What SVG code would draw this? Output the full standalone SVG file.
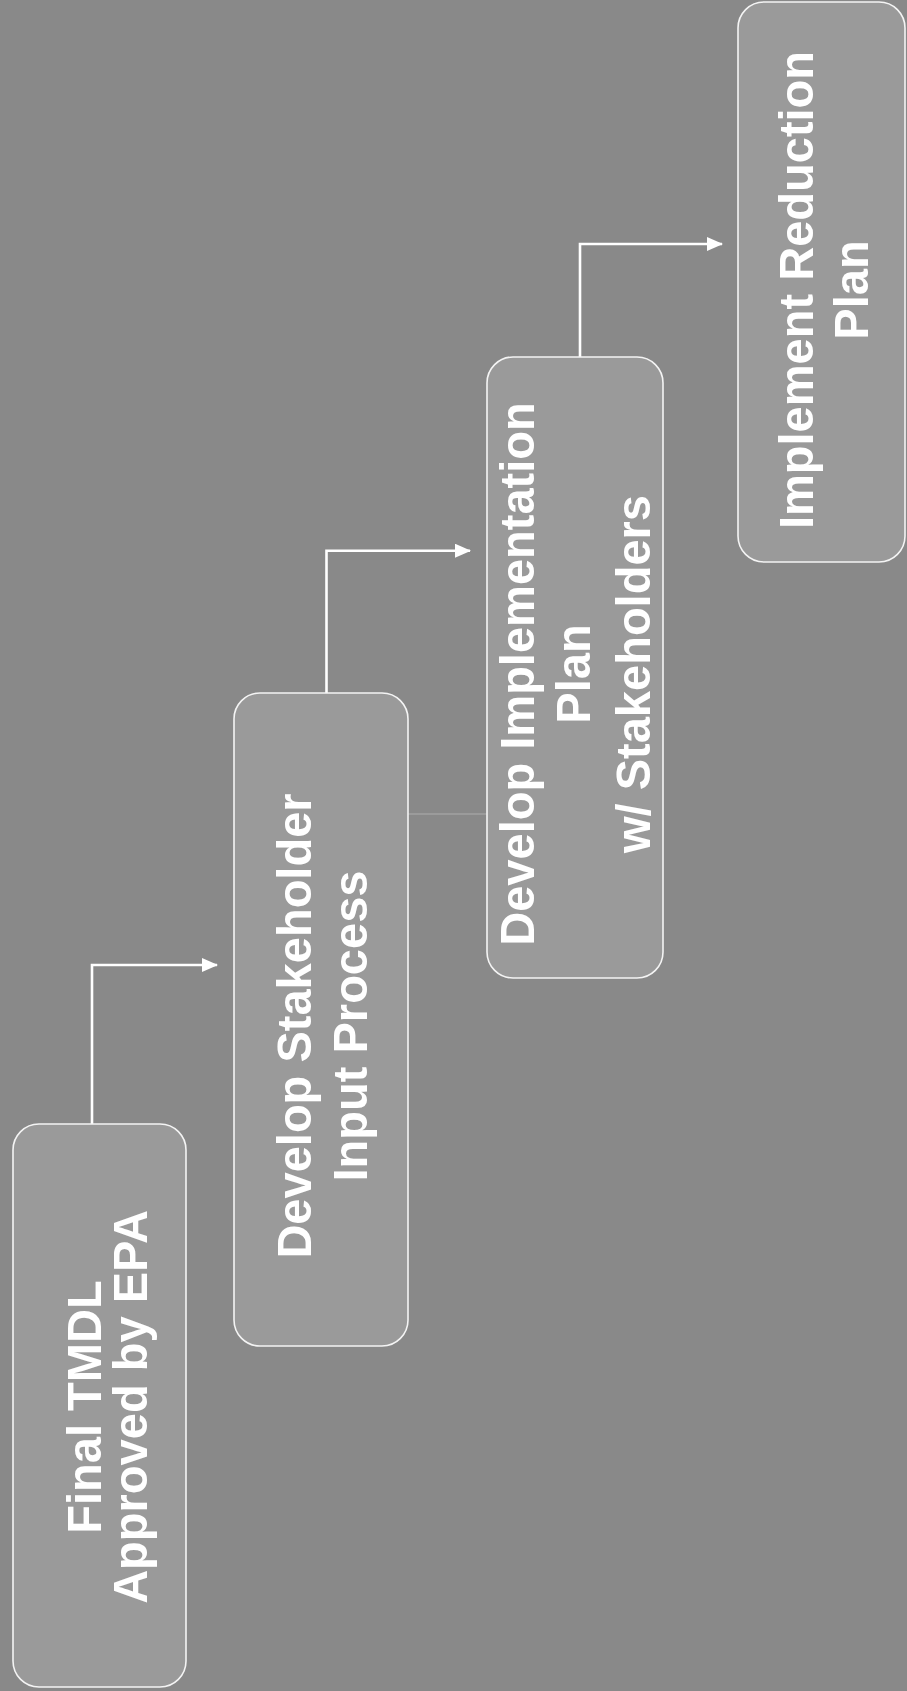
<svg xmlns="http://www.w3.org/2000/svg" width="907" height="1691" viewBox="0 0 907 1691">
<defs>
<style>
.box{fill:#9a9a9a;stroke:#f4f4f4;stroke-width:1.6}
.lbl{font-family:"Liberation Sans",Arial,Helvetica,sans-serif;font-weight:bold;font-size:49px;fill:#ffffff;text-anchor:middle}
.conn{fill:none;stroke:#ffffff;stroke-width:2.6;marker-end:url(#arr)}
</style>
<marker id="arr" markerUnits="userSpaceOnUse" markerWidth="16" markerHeight="14" refX="15" refY="7" orient="auto">
<path d="M0,0 L16,7 L0,14 Z" fill="#ffffff"/>
</marker>
</defs>
<rect x="0" y="0" width="907" height="1691" fill="#898989"/>
<line x1="380" y1="814" x2="506" y2="814" stroke="#d8d8d8" stroke-width="0.8" opacity="0.6"/>
<g id="connectors">
<path class="conn" d="M92,1124 V965 H217"/>
<path class="conn" d="M326.5,693 V550.7 H470"/>
<path class="conn" d="M580,357 V244 H722"/>
</g>
<g id="node1">
<rect class="box" x="13" y="1124" width="173" height="563" rx="26"/>
<g transform="translate(0,1407) rotate(-90) scale(0.96,1)">
<text class="lbl" x="0" y="101">Final TMDL</text>
<text class="lbl" x="0" y="147">Approved by EPA</text>
</g>
</g>
<g id="node2">
<rect class="box" x="234" y="693" width="174" height="653" rx="26"/>
<g transform="translate(0,1026) rotate(-90) scale(0.96,1)">
<text class="lbl" x="0" y="311">Develop Stakeholder</text>
<text class="lbl" x="0" y="367">Input Process</text>
</g>
</g>
<g id="node3">
<rect class="box" x="487" y="357" width="176" height="621" rx="26"/>
<g transform="translate(0,674) rotate(-90) scale(0.96,1)">
<text class="lbl" x="0" y="534">Develop Implementation</text>
<text class="lbl" x="0" y="590">Plan</text>
<text class="lbl" x="0" y="650">w/ Stakeholders</text>
</g>
</g>
<g id="node4">
<rect class="box" x="738" y="2" width="167" height="560" rx="26"/>
<g transform="translate(0,290) rotate(-90) scale(0.96,1)">
<text class="lbl" x="0" y="813.5">Implement Reduction</text>
<text class="lbl" x="0" y="868">Plan</text>
</g>
</g>
</svg>
